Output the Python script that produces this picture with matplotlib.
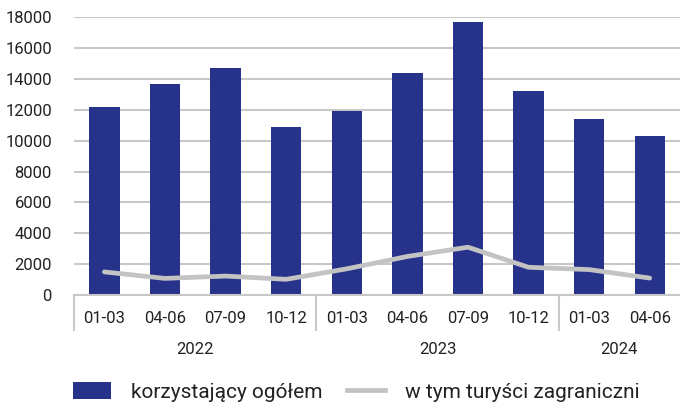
import matplotlib
matplotlib.use("Agg")
import matplotlib.pyplot as plt
from matplotlib.patches import Patch
from matplotlib.lines import Line2D
import numpy as np

plt.rcParams['font.family'] = ['Roboto', 'DejaVu Sans']

quarters = ["01-03", "04-06", "07-09", "10-12", "01-03", "04-06", "07-09", "10-12", "01-03", "04-06"]
years = ["2022", "2023", "2024"]
year_counts = [4, 4, 2]
total = [12200, 13700, 14700, 10900, 11900, 14400, 17700, 13200, 11400, 10300]
foreign = [1500, 1080, 1230, 1020, 1700, 2500, 3100, 1800, 1650, 1100]
yticks = [0, 2000, 4000, 6000, 8000, 10000, 12000, 14000, 16000, 18000]

bar_color = "#27328a"
line_color = "#c3c3c3"
grid_color = "#c8c8c8"
text_color = "#222222"

fig = plt.figure(figsize=(6.8, 4.07), dpi=100)
ax = fig.add_axes([0.109, 0.275, 0.891, 0.683])

x = np.arange(len(total))
ax.bar(x, total, width=0.5, color=bar_color, zorder=2)
ax.plot(x, foreign, color=line_color, lw=3.4, zorder=3, solid_capstyle='round')

ax.set_xlim(-0.5, len(total) - 0.5)
ax.set_ylim(0, 18000)
ax.set_yticks(yticks)
ax.set_yticklabels([str(v) for v in yticks], fontsize=12, color=text_color)
ax.tick_params(axis='y', length=0, pad=16)
ax.yaxis.grid(True, color=grid_color, lw=1.5, zorder=0)
ax.set_axisbelow(True)
for s in ['top', 'right', 'left']:
    ax.spines[s].set_visible(False)
ax.spines['bottom'].set_color(grid_color)
ax.spines['bottom'].set_linewidth(1.5)
ax.set_xticks([])

trans = ax.get_xaxis_transform()
# category labels
for xi, q in zip(x, quarters):
    ax.text(xi, -0.085, q, transform=trans, ha='center', va='center', fontsize=12, color=text_color)
# year labels and separators
start = 0
seps = [-0.5]
for yr, n in zip(years, year_counts):
    center = start + (n - 1) / 2
    ax.text(center, -0.195, yr, transform=trans, ha='center', va='center', fontsize=12, color=text_color)
    start += n
    seps.append(start - 0.5)
for sx in seps[:-1]:
    ax.add_line(Line2D([sx, sx], [0, -0.125], transform=trans, color=grid_color, lw=1.5, clip_on=False))

handles = [Patch(facecolor=bar_color, edgecolor='none'),
           Line2D([0], [0], color=line_color, lw=3.4)]
labels = ["korzystający ogółem", "w tym turyści zagraniczni"]
fig.legend(handles, labels, loc='center', bbox_to_anchor=(0.524, 0.037), ncol=2, frameon=False,
           fontsize=15, handlelength=1.8, handleheight=0.9, handletextpad=0.95, columnspacing=1.2,
           labelcolor=text_color, borderpad=0.2)

fig.savefig("out.png", dpi=100)
